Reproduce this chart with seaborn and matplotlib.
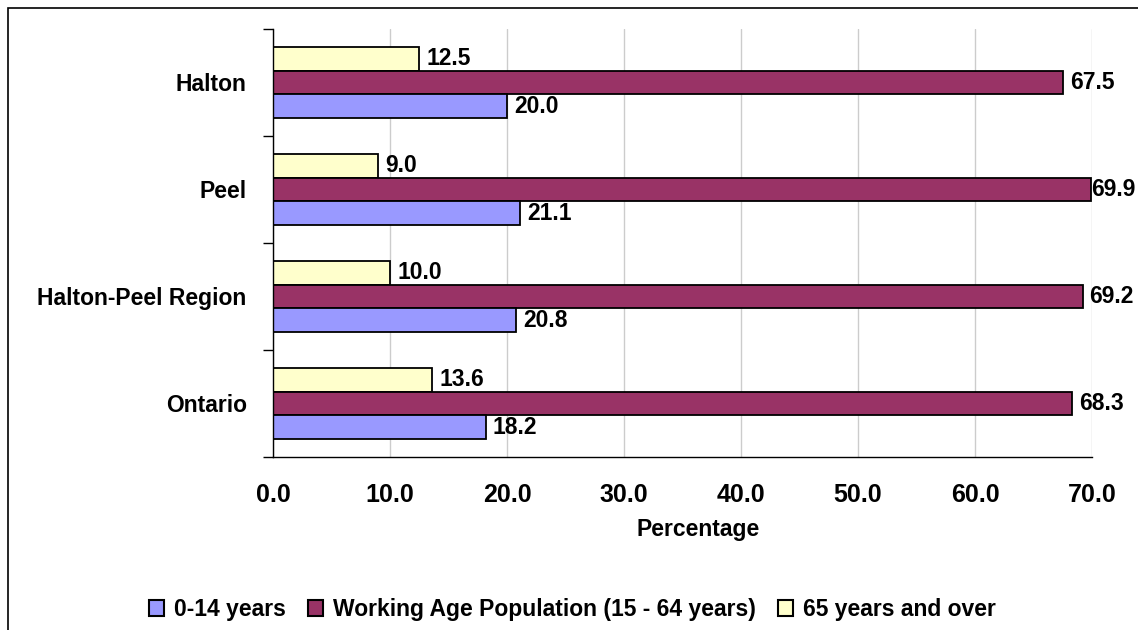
import matplotlib
matplotlib.use("Agg")
import matplotlib.pyplot as plt
import seaborn as sns
import pandas as pd
from matplotlib.patches import Patch, Rectangle

# datos
regiones = ["Halton", "Peel", "Halton-Peel Region", "Ontario"]
grupos = ["0-14 years", "Working Age Population (15 - 64 years)", "65 years and over"]
edad_0_14 = [20.0, 21.1, 20.8, 18.2]
edad_trabajo = [67.5, 69.9, 69.2, 68.3]
edad_65 = [12.5, 9.0, 10.0, 13.6]
colores = {"0-14 years": "#9999FF",
           "Working Age Population (15 - 64 years)": "#993366",
           "65 years and over": "#FFFFCC"}
ticks_x = [0, 10, 20, 30, 40, 50, 60, 70]

filas = []
for i, r in enumerate(regiones):
    filas.append({"Region": r, "Grupo": grupos[0], "Valor": edad_0_14[i]})
    filas.append({"Region": r, "Grupo": grupos[1], "Valor": edad_trabajo[i]})
    filas.append({"Region": r, "Grupo": grupos[2], "Valor": edad_65[i]})
df = pd.DataFrame(filas)

sns.set_style("white")
plt.rcParams["font.family"] = ["Liberation Sans", "DejaVu Sans"]
plt.rcParams["text.color"] = "black"
plt.rcParams["xtick.color"] = "black"
plt.rcParams["ytick.color"] = "black"
plt.rcParams["axes.labelcolor"] = "black"

fig = plt.figure(figsize=(11.38, 6.3), dpi=100)
ax = fig.add_axes([0.240, 0.2746, 0.7196, 0.6794])

# orden de arriba a abajo: 65+, trabajo, 0-14
orden_hue = [grupos[2], grupos[1], grupos[0]]
sns.barplot(data=df, x="Valor", y="Region", hue="Grupo", order=regiones,
            hue_order=orden_hue, palette=colores, orient="h", width=0.66,
            saturation=1, edgecolor="black", linewidth=1.3, legend=False, ax=ax)

for cont in ax.containers:
    etiquetas = ax.bar_label(cont, fmt="%.1f", padding=5, fontsize=16.5, fontweight="bold")
    # la etiqueta pegada al borde derecho (como en Excel) va sin separación
    for barra, et in zip(cont, etiquetas):
        if barra.get_width() > 69.5:
            et.xyann = (0.5, et.xyann[1])

ax.set_xlim(0, 70)
ax.set_xticks(ticks_x)
ax.set_xticklabels([f"{t:.1f}" for t in ticks_x], fontsize=18, fontweight="bold")
ax.tick_params(axis="x", which="major", length=7, width=1, pad=12)
ax.grid(axis="x", color="#cccccc", linewidth=1)
ax.set_axisbelow(True)

# etiquetas centradas y marcas entre categorías
ax.set_ylim(len(regiones) - 0.5, -0.5)
ax.set_yticks([i - 0.5 for i in range(len(regiones) + 1)])
ax.set_yticklabels([])
ax.set_yticks(range(len(regiones)), minor=True)
ax.set_yticklabels(regiones, minor=True, fontsize=16.5, fontweight="bold")
ax.tick_params(axis="y", which="major", length=7, width=1, left=True)
ax.tick_params(axis="y", which="minor", length=0, pad=19)

for s in ["top", "right"]:
    ax.spines[s].set_visible(False)
for s in ["left", "bottom"]:
    ax.spines[s].set_color("black")
    ax.spines[s].set_linewidth(1)

ax.set_xlabel("Percentage", fontsize=16.5, fontweight="bold")
ax.xaxis.set_label_coords(0.519, -0.142)
ax.set_ylabel("")

handles = [Patch(facecolor=colores[g], edgecolor="black", linewidth=1.5, label=g) for g in grupos]
fig.legend(handles=handles, loc="center", bbox_to_anchor=(0.503, 0.032), ncol=3, frameon=False,
           handlelength=0.65, handleheight=0.7, handletextpad=0.45, columnspacing=0.95,
           prop={"weight": "bold", "size": 16.5})

# borde exterior
fig.patches.append(Rectangle((8 / 1138, -0.01), 1.2, 1 - 8 / 630 + 0.01, transform=fig.transFigure,
                             fill=False, edgecolor="black", linewidth=1.2))

fig.savefig("out.png", dpi=100)
